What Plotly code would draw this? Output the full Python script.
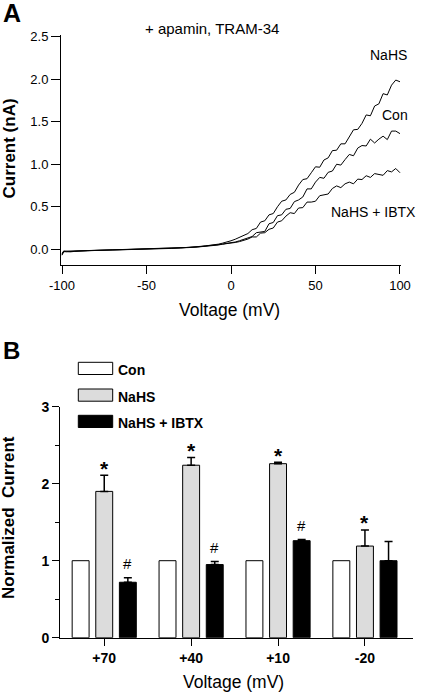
import plotly.graph_objects as go

# ---------------- Panel A data (I-V traces) ----------------
voltage = [-100, -99, -97.5, -95, -92.5, -90, -85, -80, -75, -70, -65, -60, -55, -50,
           -45, -40, -35, -30, -25, -20, -17.5, -15, -12.5,
           -10, -7.5, -5, -2.5, 0, 2.5, 5, 7.5, 10, 12.5, 15, 17.5, 20, 22.5, 25, 27.5,
           30, 32.5, 35, 37.5, 40, 42.5, 45, 47.5, 50, 52.5, 55, 57.5, 60, 62.5, 65, 67.5,
           70, 72.5, 75, 77.5, 80, 82.5, 85, 87.5, 90, 92.5, 95, 97.5, 100]

current_nahs = [-0.07, -0.03, -0.025, -0.03, -0.025, -0.02, -0.018, -0.014, -0.012, -0.008,
                -0.006, -0.004, -0.002, 0.0, 0.003, 0.006, 0.01, 0.015, 0.02, 0.03, 0.035,
                0.04, 0.045,
                0.05, 0.06, 0.072, 0.083, 0.10, 0.118, 0.138, 0.163, 0.185,
                0.23, 0.245, 0.32, 0.335, 0.405, 0.42, 0.50, 0.565, 0.58, 0.645,
                0.67, 0.755, 0.82, 0.83, 0.90, 0.97, 0.965, 1.05, 1.075, 1.16,
                1.165, 1.24, 1.24, 1.33, 1.405, 1.41, 1.48, 1.58, 1.57, 1.685,
                1.71, 1.83, 1.815, 1.93, 1.99, 1.97]

current_con = [-0.06, -0.025, -0.03, -0.025, -0.022, -0.02, -0.016, -0.013, -0.01, -0.008,
               -0.005, -0.003, -0.001, 0.001, 0.004, 0.007, 0.011, 0.016, 0.022, 0.028,
               0.033, 0.038, 0.043,
               0.045, 0.05, 0.06, 0.07, 0.075, 0.085, 0.10, 0.115, 0.135,
               0.15, 0.195, 0.205, 0.21, 0.30, 0.315, 0.395, 0.405, 0.47, 0.48,
               0.56, 0.58, 0.615, 0.71, 0.71, 0.79, 0.845, 0.835, 0.905, 0.92,
               1.00, 0.99, 1.055, 1.115, 1.10, 1.19, 1.22, 1.215, 1.295, 1.25,
               1.295, 1.33, 1.29, 1.39, 1.39, 1.36]

current_ibtx = [-0.05, -0.02, -0.022, -0.02, -0.018, -0.016, -0.014, -0.012, -0.009, -0.007,
                -0.005, -0.003, -0.001, 0.001, 0.003, 0.006, 0.01, 0.015, 0.02, 0.026,
                0.03, 0.035, 0.04,
                0.045, 0.05, 0.06, 0.065, 0.07, 0.08, 0.09, 0.105, 0.12,
                0.145, 0.145, 0.19, 0.195, 0.235, 0.25, 0.32, 0.335, 0.39, 0.43,
                0.42, 0.485, 0.49, 0.555, 0.555, 0.565, 0.63, 0.64, 0.65, 0.715,
                0.745, 0.725, 0.77, 0.79, 0.77, 0.825, 0.82, 0.865, 0.845, 0.89,
                0.88, 0.87, 0.925, 0.91, 0.95, 0.90]

a_xticks = [-100, -50, 0, 50, 100]
a_xtick_labels = ["-100", "-50", "0", "50", "100"]
a_yticks = [0.0, 0.5, 1.0, 1.5, 2.0, 2.5]
a_ytick_labels = ["0.0", "0.5", "1.0", "1.5", "2.0", "2.5"]

# ---------------- Panel B data (normalized current) ----------------
categories = ["+70", "+40", "+10", "-20"]
con_vals = [1.0, 1.0, 1.0, 1.0]
nahs_vals = [1.90, 2.24, 2.26, 1.19]
nahs_err = [0.21, 0.10, 0.02, 0.21]
ibtx_vals = [0.72, 0.95, 1.26, 1.00]
ibtx_err = [0.06, 0.04, 0.015, 0.25]
nahs_marks = ["*", "*", "*", "*"]
ibtx_marks = ["#", "#", "#", ""]
b_yticks = [0, 1, 2, 3]

W, H = 422, 692
FONT = "Arial, Liberation Sans, sans-serif"


def px(x):
    return x / W


def py(y):
    return 1 - y / H


def label(x, y, text, size, xanchor="center", angle=0):
    return dict(x=px(x), y=py(y), xref="paper", yref="paper", text=text, showarrow=False,
                xanchor=xanchor, yanchor="middle", textangle=angle, borderpad=0,
                font=dict(family=FONT, size=size, color="black"))


fig = go.Figure()

# Panel A traces
for ys in (current_ibtx, current_con, current_nahs):
    fig.add_trace(go.Scatter(x=voltage, y=ys, mode="lines",
                             line=dict(color="black", width=1),
                             xaxis="x", yaxis="y", showlegend=False, hoverinfo="skip"))

# Panel B bars
fig.add_trace(go.Bar(x=categories, y=con_vals, name="Con",
                     marker=dict(color="white", line=dict(color="black", width=1)),
                     xaxis="x2", yaxis="y2", showlegend=False))
fig.add_trace(go.Bar(x=categories, y=nahs_vals, name="NaHS",
                     marker=dict(color="#dcdcdc", line=dict(color="black", width=1)),
                     error_y=dict(type="data", array=nahs_err, arrayminus=[0] * 4,
                                  symmetric=False, color="black", thickness=1.5, width=4),
                     xaxis="x2", yaxis="y2", showlegend=False))
fig.add_trace(go.Bar(x=categories, y=ibtx_vals, name="NaHS + IBTX",
                     marker=dict(color="black", line=dict(color="black", width=1)),
                     error_y=dict(type="data", array=ibtx_err, arrayminus=[0] * 4,
                                  symmetric=False, color="black", thickness=1.5, width=4),
                     xaxis="x2", yaxis="y2", showlegend=False))

bargap = 0.185
slot = (1 - bargap) / 3

annotations = []
# significance marks (category axis positions are the category indices)
for i, (v, e, m) in enumerate(zip(nahs_vals, nahs_err, nahs_marks)):
    if m:
        annotations.append(dict(x=i, y=v + e, xref="x2", yref="y2", text="<b>" + m + "</b>",
                                showarrow=False, xanchor="center", yanchor="middle", yshift=7,
                                font=dict(family=FONT, size=21, color="black")))
for i, (v, e, m) in enumerate(zip(ibtx_vals, ibtx_err, ibtx_marks)):
    if m:
        annotations.append(dict(x=i + slot, y=v + e, xref="x2", yref="y2", text=m,
                                showarrow=False, xanchor="center", yanchor="middle", yshift=14,
                                font=dict(family=FONT, size=15, color="black")))

# panel labels and texts
annotations += [
    label(2, 13, "<b>A</b>", 25, xanchor="left"),
    label(2, 350, "<b>B</b>", 24, xanchor="left"),
    label(212, 28, "+ apamin, TRAM-34", 15),
    label(388, 55, "NaHS", 14),
    label(395, 115, "Con", 14),
    label(373, 212, "NaHS + IBTX", 14),
    label(8.5, 149, "<b>Current (nA)</b>", 17, angle=-90),
    label(230, 310, "Voltage (mV)", 17.5),
    label(8, 518, "<b>Normalized  Current</b>", 17, angle=-90),
    label(234, 682, "Voltage (mV)", 17.5),
]

# manual legend for panel B
legend_items = [("Con", "white", 362.3), ("NaHS", "#dcdcdc", 389), ("NaHS + IBTX", "black", 415.3)]
shapes = []
for name, col, top in legend_items:
    shapes.append(dict(type="rect", xref="paper", yref="paper", x0=px(78.3), x1=px(112.7),
                       y0=py(top + 12.2), y1=py(top), fillcolor=col,
                       line=dict(color="black", width=1)))
    annotations.append(label(117, top + 7.5, "<b>" + name + "</b>", 14, xanchor="left"))

fig.update_layout(
    width=W, height=H, margin=dict(l=0, r=0, t=0, b=0, pad=0, autoexpand=False),
    paper_bgcolor="white", plot_bgcolor="white",
    barmode="group", bargap=bargap, bargroupgap=0.283,
    showlegend=False,
    font=dict(family=FONT, color="black"),
    xaxis=dict(domain=[px(61), px(401)], range=[-100.6, 100.6], tickvals=a_xticks,
               ticktext=a_xtick_labels, automargin=False,
               showline=True, linecolor="black", linewidth=1, ticks="outside", ticklen=8,
               tickcolor="black", showgrid=False, zeroline=False,
               tickfont=dict(family=FONT, size=13, color="black"), anchor="y"),
    yaxis=dict(domain=[py(265), py(35)], range=[-0.185, 2.52], tickvals=a_yticks,
               ticktext=a_ytick_labels, automargin=False,
               showline=True, linecolor="black", linewidth=1,
               ticks="outside", ticklen=9, tickcolor="black", showgrid=False, zeroline=False,
               tickfont=dict(family=FONT, size=13, color="black"), anchor="x"),
    xaxis2=dict(domain=[px(60), px(413)], type="category", range=[-0.509, 3.553],
                automargin=False,
                showline=True, linecolor="black", linewidth=1, ticks="outside", ticklen=7,
                tickcolor="black", showgrid=False, zeroline=False,
                tickfont=dict(family=FONT, size=14, color="black", weight="bold"), anchor="y2"),
    yaxis2=dict(domain=[py(637.7), py(406.7)], range=[0, 3], tickvals=b_yticks,
                automargin=False,
                showline=True, linecolor="black", linewidth=1, ticks="outside", ticklen=7,
                tickcolor="black", showgrid=False, zeroline=False,
                minor=dict(dtick=0.5, ticklen=4, ticks="outside", tickcolor="black", showgrid=False),
                tickfont=dict(family=FONT, size=14, color="black", weight="bold"), anchor="x2"),
    annotations=annotations, shapes=shapes,
)

fig.write_html("out.html", config={"displayModeBar": False},
               post_script="document.body.style.margin='0';document.body.style.padding='0';"
                           "document.body.style.overflow='hidden';")
